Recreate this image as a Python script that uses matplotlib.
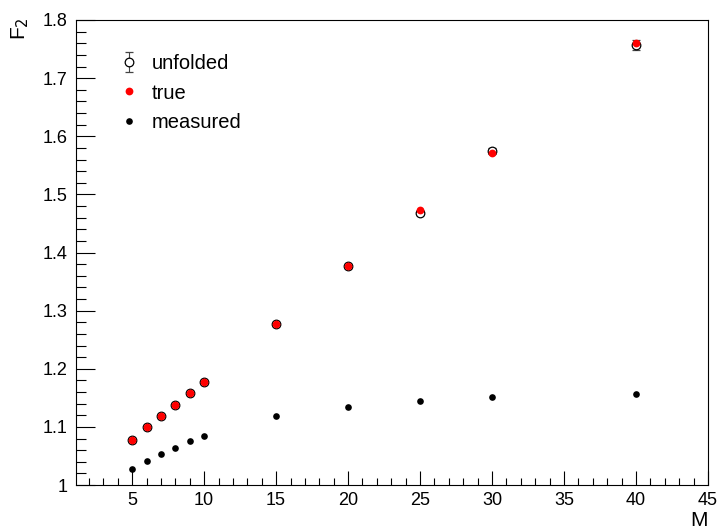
import matplotlib
matplotlib.use("Agg")
import matplotlib.pyplot as plt
from matplotlib.ticker import MultipleLocator, FuncFormatter

plt.rcParams['font.family'] = ['Liberation Sans', 'DejaVu Sans']

# Data
M = [5, 6, 7, 8, 9, 10, 15, 20, 25, 30, 40]
true_F2 = [1.077, 1.099, 1.119, 1.138, 1.158, 1.178, 1.277, 1.376, 1.473, 1.571, 1.760]
unfolded_F2 = [1.077, 1.099, 1.119, 1.138, 1.158, 1.178, 1.277, 1.376, 1.468, 1.575, 1.757]
unfolded_err = [0.001, 0.001, 0.001, 0.001, 0.0015, 0.0015, 0.002, 0.003, 0.004, 0.005, 0.009]
measured_F2 = [1.0275, 1.041, 1.053, 1.064, 1.076, 1.084, 1.118, 1.135, 1.145, 1.151, 1.157]

x_ticks = [5, 10, 15, 20, 25, 30, 35, 40, 45]
y_ticks = [1.0, 1.1, 1.2, 1.3, 1.4, 1.5, 1.6, 1.7, 1.8]

fig = plt.figure(figsize=(7.18, 5.30), dpi=100)
ax = fig.add_axes([76/718, 1 - 485/530, (708-76)/718, (485-20)/530])

eb = ax.errorbar(M, unfolded_F2, yerr=unfolded_err, fmt='o', mfc='white', mec='black',
                 mew=0.9, ms=6.2, ecolor='#444444', elinewidth=0.8, capsize=3, capthick=0.8,
                 label='unfolded', zorder=2)
tr, = ax.plot(M, true_F2, 'o', color='red', ms=5.6, mew=0, label='true', zorder=3,
              linestyle='none')
ms_, = ax.plot(M, measured_F2, 'o', color='black', ms=4.8, mew=0, label='measured', zorder=3,
               linestyle='none')

ax.set_xlim(1.1, 45)
ax.set_ylim(1.0, 1.8)
ax.set_xticks(x_ticks)
ax.set_yticks(y_ticks)
ax.xaxis.set_minor_locator(MultipleLocator(1))
ax.yaxis.set_minor_locator(MultipleLocator(0.02))
ax.yaxis.set_major_formatter(FuncFormatter(lambda v, p: ('%g' % round(v, 3))))

ax.tick_params(axis='x', which='major', direction='in', length=10, width=0.8, labelsize=13, pad=5)
ax.tick_params(axis='x', which='minor', direction='in', length=5, width=0.8)
ax.tick_params(axis='y', which='major', direction='in', length=14, width=0.8, labelsize=13, pad=6)
ax.tick_params(axis='y', which='minor', direction='in', length=7, width=0.8)
ax.tick_params(top=False, right=False, which='both')
for s in ax.spines.values():
    s.set_linewidth(0.8)

fig.text(708/718, 1 - 521/530, 'M', ha='right', va='center', fontsize=15)
fig.text(20/718, 1 - 17/530, r'F$_2$', ha='center', va='top', rotation=90, fontsize=15)

leg = ax.legend(handles=[eb, tr, ms_], loc='upper left', bbox_to_anchor=(109/718, 1 - 44/530),
                bbox_transform=fig.transFigure, frameon=False, fontsize=14.5,
                handlelength=1.0, handletextpad=0.6, labelspacing=0.52, borderpad=0, numpoints=1)

fig.savefig('out.png', dpi=100)
